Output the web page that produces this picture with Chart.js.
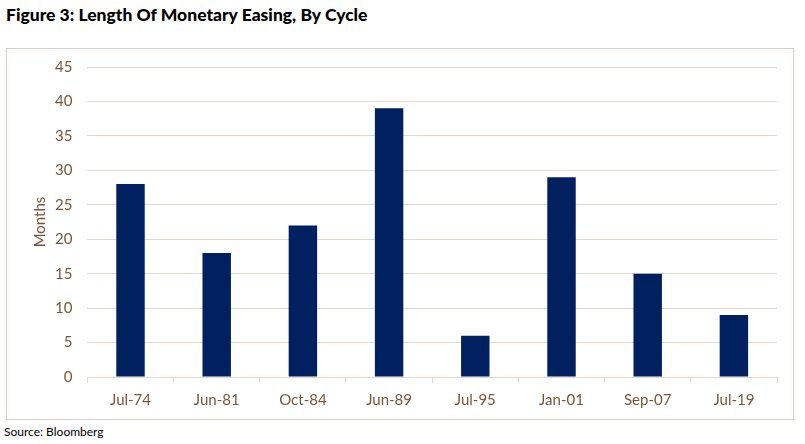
<!DOCTYPE html>
<html>
<head>
<meta charset="utf-8">
<script src="https://cdn.jsdelivr.net/npm/chart.js@4.4.0/dist/chart.umd.min.js"></script>
<style>
  body { margin: 0; background: #fff; width: 805px; height: 444px; position: relative; font-family: Lato, "Open Sans", sans-serif; }
  #title { position: absolute; left: 6px; top: 4px; font-size: 17.5px; font-weight: 900; color: #000; }
  #box { position: absolute; left: 6px; top: 48px; width: 786px; height: 370px; border: 1px solid #dccfc7; }
  #chart { position: absolute; left: 0; top: -6px; }
  #source { position: absolute; left: 4px; top: 424px; font-size: 12px; color: #000; }
</style>
</head>
<body>
<div id="title">Figure 3: Length Of Monetary Easing, By Cycle</div>
<div id="box"><canvas id="chart" width="786" height="377"></canvas></div>
<div id="source">Source: Bloomberg</div>
<script>
const cycles = ["Jul-74", "Jun-81", "Oct-84", "Jun-89", "Jul-95", "Jan-01", "Sep-07", "Jul-19"];
const months = [28, 18, 22, 39, 6, 29, 15, 9];

const brown = '#7a5638';
const gridColor = '#e3d8d0';

new Chart(document.getElementById("chart"), {
    type: 'bar',
    data: {
      labels: cycles,
      datasets: [
        {
          label: "Months",
          backgroundColor: "#002060",
          data: months,
          categoryPercentage: 1,
          barPercentage: 0.33
        }
      ]
    },
    options: {
      responsive: false,
      animation: false,
      layout: { padding: { left: 7, right: 16, top: 0, bottom: 3 } },
      plugins: {
        legend: { display: false },
        tooltip: { enabled: false }
      },
      scales: {
        x: {
          grid: { offset: true, drawOnChartArea: false, color: gridColor, tickLength: 6 },
          border: { color: gridColor },
          ticks: { color: brown, font: { family: 'Lato', size: 15 }, padding: 8 }
        },
        y: {
          min: 0,
          max: 45,
          ticks: { stepSize: 5, color: brown, font: { family: 'Lato', size: 15 }, padding: 15 },
          grid: { color: gridColor, drawTicks: false },
          border: { display: false },
          title: { display: true, text: 'Months', color: brown, font: { family: 'Lato', size: 15 }, padding: { top: 17, bottom: -9 } }
        }
      }
    }
});
</script>
</body>
</html>
